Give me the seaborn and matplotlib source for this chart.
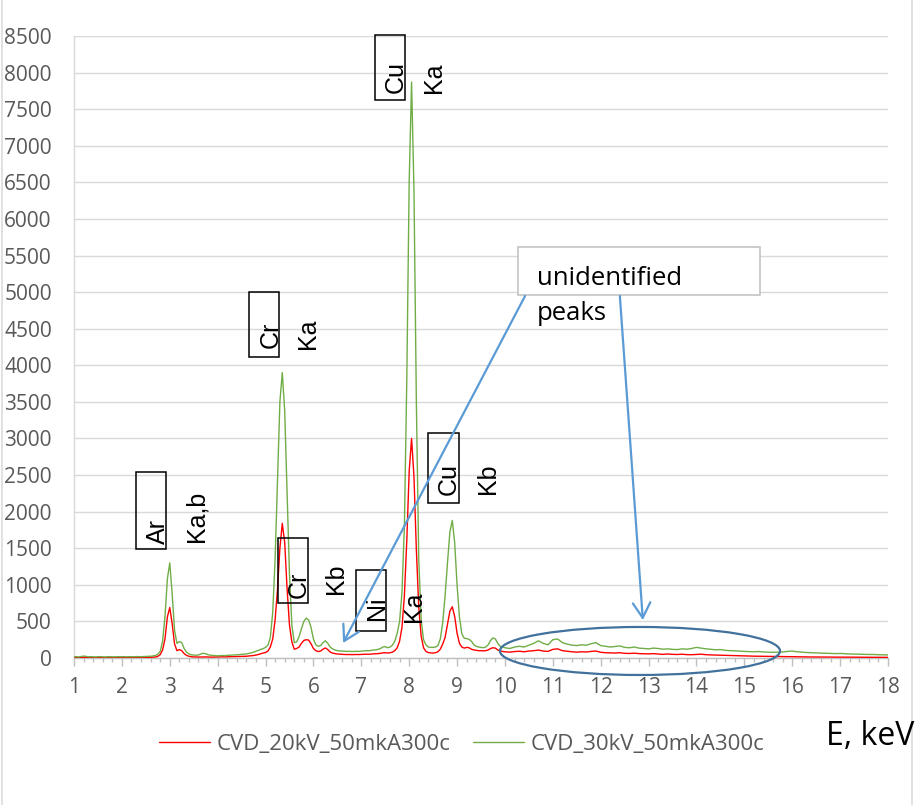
import numpy as np
import pandas as pd
import matplotlib
matplotlib.use("Agg")
import matplotlib.pyplot as plt
import seaborn as sns
from matplotlib.patches import Rectangle, Ellipse
from matplotlib.ticker import MultipleLocator

# ---- spectrum data -------------------------------------------------------
# energy grid: 0.05 keV steps up to 9.95 keV, 0.1 keV steps from 10 to 18 keV
energy_fine = np.round(np.arange(1.0, 9.96, 0.05), 2)
energy_coarse = np.round(np.arange(10.0, 18.01, 0.1), 1)
energy_kev = np.concatenate([energy_fine, energy_coarse])

series_names = ["CVD_20kV_50mkA300c", "CVD_30kV_50mkA300c"]

counts_20kv = [
    # 1.00 - 1.95
    5, 6, 4, 5, 7, 5, 4, 6, 5, 5, 6, 7, 5, 5, 6, 7, 6, 5, 7, 6,
    # 2.00 - 2.70
    6, 7, 5, 7, 6, 6, 8, 7, 7, 8, 8, 9, 9, 11, 14,
    # 2.75 - 3.50  (Ar K)
    22, 45, 110, 260, 560, 690, 470, 190, 100, 115, 100, 60, 35, 24, 18, 15,
    # 3.55 - 4.95
    14, 13, 14, 16, 15, 13, 12, 13, 14, 14,
    15, 16, 15, 17, 18, 18, 19, 20, 21, 22,
    23, 24, 27, 30, 34, 40, 48, 58, 68,
    # 5.00 - 5.65  (Cr Ka)
    75, 95, 150, 260, 520, 940, 1500, 1840, 1580, 950, 450, 220, 120, 130,
    # 5.70 - 6.40  (Cr Kb)
    150, 200, 240, 250, 245, 195, 130, 100, 88, 95, 120, 138, 115, 82, 66,
    # 6.45 - 7.75
    60, 55, 52, 50, 48, 47, 48, 46, 47, 48,
    47, 49, 50, 52, 51, 54, 56, 58, 60, 64,
    70, 72, 68, 72, 80, 100, 140,
    # 7.80 - 9.95  (Cu Ka, Cu Kb)
    230, 420, 850, 1600, 2550, 3000, 2480, 1480, 700, 300,
    140, 90, 74, 70, 68, 72, 85, 120, 190, 280,
    460, 640, 700, 570, 340, 200, 150, 135, 145, 140,
    120, 110, 105, 100, 100, 98, 100, 110, 130, 140,
    135, 110, 95, 90,
    # 10.0 - 18.0
    85, 80, 88, 92, 85, 95, 100, 108, 95, 90,
    118, 125, 100, 92, 85, 80, 85, 82, 90, 95,
    78, 72, 70, 68, 72, 64, 62, 66, 60, 58,
    56, 60, 54, 50, 55, 50, 48, 52, 46, 45,
    48, 52, 45, 42, 40, 38, 36, 35, 32, 30,
    28, 26, 25, 24, 22, 21, 20, 19, 18, 17,
    16, 16, 15, 15, 14, 14, 13, 13, 12, 12,
    12, 11, 11, 11, 10, 10, 10, 10, 9, 9,
    9,
]

counts_30kv = [
    # 1.00 - 1.95
    16, 18, 15, 20, 26, 22, 17, 18, 16, 15, 17, 19, 16, 15, 17, 18, 16, 15, 18, 17,
    # 2.00 - 2.70
    17, 18, 16, 18, 17, 17, 19, 18, 18, 20, 21, 22, 24, 28, 35,
    # 2.75 - 3.50  (Ar K)
    50, 90, 230, 560, 1080, 1300, 880, 380, 200, 225, 210, 130, 80, 55, 45, 40,
    # 3.55 - 4.95
    38, 42, 55, 65, 58, 45, 38, 35, 33, 30,
    32, 34, 33, 36, 38, 40, 41, 44, 46, 50,
    52, 56, 62, 70, 80, 92, 105, 118, 128,
    # 5.00 - 5.65  (Cr Ka)
    145, 175, 280, 620, 1350, 2450, 3500, 3900, 3380, 2250, 1150, 450, 210, 220,
    # 5.70 - 6.40  (Cr Kb)
    290, 400, 500, 545, 520, 420, 260, 180, 160, 170, 210, 235, 200, 150, 125,
    # 6.45 - 7.75
    110, 100, 98, 95, 92, 90, 92, 88, 90, 92,
    90, 94, 96, 100, 98, 104, 108, 112, 118, 130,
    150, 155, 140, 150, 175, 230, 340,
    # 7.80 - 9.95  (Cu Ka, Cu Kb)
    500, 900, 1800, 3800, 6500, 7870, 6400, 3500, 1350, 520,
    250, 180, 150, 145, 145, 150, 170, 260, 480, 850,
    1300, 1720, 1880, 1580, 1000, 560, 330, 270, 265, 255,
    230, 180, 160, 150, 145, 140, 150, 180, 240, 275,
    260, 200, 160, 150,
    # 10.0 - 18.0
    140, 130, 150, 160, 150, 175, 200, 235, 200, 180,
    250, 260, 210, 190, 175, 170, 180, 175, 195, 210,
    170, 160, 150, 158, 165, 145, 140, 150, 135, 130,
    125, 135, 130, 120, 125, 118, 115, 125, 120, 130,
    145, 135, 125, 118, 112, 115, 105, 100, 98, 95,
    90, 88, 85, 88, 82, 80, 78, 80, 82, 90,
    95, 85, 80, 75, 72, 70, 68, 65, 62, 60,
    62, 58, 55, 54, 52, 50, 48, 48, 45, 44,
    42,
]

x_ticks = list(range(1, 19))
y_ticks = list(range(0, 8501, 500))

# element lines: (element, line, box x0, box x1, box y0, box y1, element text pos, line text pos)
peak_labels = [
    ("Ar", "Ka,b", 2.295, 2.921, 1489, 2541, (2.76, 1735), (3.55, 1940)),
    ("Cr", "Ka", 4.655, 5.281, 4113, 5001, (5.10, 4413), (5.88, 4434)),
    ("Cr", "Kb", 5.261, 5.887, 752, 1640, (5.69, 997), (6.47, 1079)),
    ("Ni", "Ka", 6.890, 7.516, 369, 1203, (7.33, 683), (8.10, 697)),
    ("Cu", "Ka", 7.287, 7.913, 7625, 8513, (7.73, 7939), (8.52, 7925)),
    ("Cu", "Kb", 8.393, 9.041, 2118, 3075, (8.83, 2446), (9.65, 2446)),
]

# ---- figure ----------------------------------------------------------------
sns.set_style("white")
plt.rcParams["font.family"] = ["Open Sans", "DejaVu Sans"]

W, H = 916, 805
fig = plt.figure(figsize=(W / 100, H / 100), dpi=100)
ax = fig.add_axes([74 / W, 1 - 658 / H, (888 - 74) / W, (658 - 36) / H])

df = pd.DataFrame({
    "E": np.concatenate([energy_kev, energy_kev]),
    "counts": np.concatenate([counts_20kv, counts_30kv]),
    "series": [series_names[0]] * len(energy_kev) + [series_names[1]] * len(energy_kev),
})

palette = {series_names[0]: "#ff0000", series_names[1]: "#70ad47"}
sns.lineplot(data=df, x="E", y="counts", hue="series", palette=palette,
             estimator=None, sort=False, linewidth=1.0, ax=ax, zorder=3)

ax.set_xlim(1, 18)
ax.set_ylim(0, 8500)
ax.set_xticks(x_ticks)
ax.set_yticks(y_ticks)
ax.xaxis.set_minor_locator(MultipleLocator(0.2))
ax.set_xlabel("")
ax.set_ylabel("")

ax.grid(axis="y", color="#d9d9d9", linewidth=1.0, zorder=0)
ax.set_axisbelow(True)
for side in ("top", "right"):
    ax.spines[side].set_visible(False)
ax.spines["left"].set_color("#d9d9d9")
ax.spines["left"].set_linewidth(1.0)
ax.spines["bottom"].set_color("#bfbfbf")
ax.spines["bottom"].set_linewidth(1.0)

ax.tick_params(axis="y", length=0, pad=16, labelsize=15, labelcolor="#595959")
ax.tick_params(axis="x", which="major", direction="out", length=5.5, width=1.0,
               color="#bfbfbf", pad=8, labelsize=15, labelcolor="#595959")
ax.tick_params(axis="x", which="minor", direction="out", length=3.0, width=1.0,
               color="#bfbfbf")
ax.xaxis.set_ticks_position("bottom")

# legend below the plot
handles, labels = ax.get_legend_handles_labels()
ax.legend(handles, labels, loc="center", bbox_to_anchor=(462 / W, 1 - 744 / H),
          bbox_transform=fig.transFigure, ncol=2, frameon=False, fontsize=16,
          handlelength=2.3, handletextpad=0.3, columnspacing=1.0,
          labelcolor="#595959")

# axis title
fig.text(826 / W, 1 - 745 / H, "E, keV", fontsize=23, color="black",
         ha="left", va="baseline")

# element / line labels
label_font = ["Liberation Sans", "DejaVu Sans"]
for elem, line, x0, x1, y0, y1, epos, lpos in peak_labels:
    ax.add_patch(Rectangle((x0, y0), x1 - x0, y1 - y0, fill=False,
                           edgecolor="black", linewidth=1.1, zorder=4,
                           clip_on=False))
    ax.text(*epos, elem, rotation=90, ha="center", va="center", fontsize=18,
            family=label_font, color="black", zorder=5, clip_on=False)
    ax.text(*lpos, line, rotation=90, ha="center", va="center", fontsize=18,
            family=label_font, color="black", zorder=5, clip_on=False)

# callout for the unidentified peaks
ax.add_patch(Rectangle((10.27, 4960), 15.33 - 10.27, 5615 - 4960,
                       facecolor="white", edgecolor="#bfbfbf", linewidth=1.1,
                       zorder=6, clip_on=False))
ax.text(10.67, 5097, "unidentified", fontsize=18.5, color="black",
        ha="left", va="baseline", zorder=7)
ax.text(10.67, 4619, "peaks", fontsize=18.5, color="black",
        ha="left", va="baseline", zorder=7)

arrow_style = dict(arrowstyle="->,head_length=0.6,head_width=0.35",
                   color="#5b9bd5", lw=1.6, shrinkA=0, shrinkB=0,
                   mutation_scale=18)
ax.annotate("", xy=(6.62, 205), xytext=(10.42, 4947), arrowprops=arrow_style,
            annotation_clip=False, zorder=6)
ax.annotate("", xy=(12.88, 519), xytext=(12.40, 4947), arrowprops=arrow_style,
            annotation_clip=False, zorder=6)

ax.add_patch(Ellipse((12.82, 96), 5.85, 656, fill=False, edgecolor="#41719c",
                     linewidth=1.6, zorder=6, clip_on=False))

# chart frame
fig.add_artist(Rectangle((1.5 / W, -0.05), (912 - 1.5) / W, 1.2,
                         transform=fig.transFigure, fill=False,
                         edgecolor="#d9d9d9", linewidth=1.1))

fig.savefig("out.png", dpi=100, facecolor="white")
